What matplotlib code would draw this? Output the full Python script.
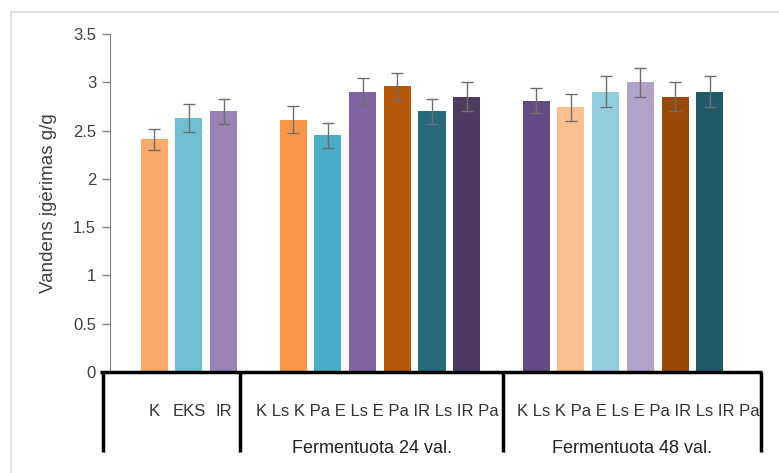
import matplotlib
matplotlib.use("Agg")
import matplotlib.pyplot as plt
import matplotlib.transforms as mtransforms
from matplotlib.patches import Rectangle

# data
slots = [0, 1, 2, 4, 5, 6, 7, 8, 9, 11, 12, 13, 14, 15, 16]
values = [2.41, 2.63, 2.70,
          2.61, 2.45, 2.90, 2.96, 2.70, 2.85,
          2.81, 2.74, 2.90, 3.00, 2.85, 2.90]
errors = [0.11, 0.14, 0.13,
          0.14, 0.13, 0.14, 0.14, 0.13, 0.15,
          0.13, 0.14, 0.16, 0.15, 0.15, 0.16]
colors = ["#F9A96B", "#70BED3", "#9A82B6",
          "#F79646", "#4BACC6", "#8064A2", "#B65708", "#276A7C", "#4F3B62",
          "#654B85", "#FAC08F", "#93CDDD", "#B3A2C7", "#984807", "#215968"]
first_labels = ["K", "EKS", "IR"]
sub_labels = ["K Ls", "K Pa", "E Ls", "E Pa", "IR Ls", "IR Pa"]
group_names = ["Fermentuota 24 val.", "Fermentuota 48 val."]
yticks = [0, 0.5, 1, 1.5, 2, 2.5, 3, 3.5]
ytick_labels = ["0", "0.5", "1", "1.5", "2", "2.5", "3", "3.5"]

W, H = 779, 473
fig = plt.figure(figsize=(W / 100, H / 100), dpi=100)
ax = fig.add_axes([110 / W, 1 - 372 / H, (762 - 110) / W, (372 - 34) / H])

ax.bar(slots, values, width=0.78, color=colors, zorder=2)
ax.errorbar(slots, values, yerr=errors, fmt="none", ecolor="#6e6e6e",
            elinewidth=1, capsize=4, capthick=1, zorder=3)

ax.set_ylim(0, 3.5)
ax.set_xlim(-1.27, 17.5)
ax.set_yticks(yticks)
ax.set_yticklabels(ytick_labels, fontsize=12, color="#404040",
                   fontfamily="Liberation Sans")
ax.set_xticks([])
ax.tick_params(axis="y", direction="out", length=6, color="#868686", width=1, pad=4)
for s in ["top", "right", "bottom"]:
    ax.spines[s].set_visible(False)
ax.spines["left"].set_color("#868686")
ax.set_ylabel("Vandens įgėrimas g/g", fontsize=13.5, color="#404040",
              fontfamily="Liberation Sans")
ax.yaxis.set_label_coords(-0.082, 0.5)

# multi level category axis drawn by hand
trans = mtransforms.blended_transform_factory(ax.transData, ax.transAxes)
slot_px = 34.75
def px2x(px):
    return (px - 154) / slot_px

ax.plot([px2x(100), px2x(762)], [0, 0], color="black", lw=2.5,
        transform=trans, clip_on=False, solid_capstyle="butt", zorder=5)
for sep in [103, 240, 503, 761]:
    ax.plot([px2x(sep), px2x(sep)], [0, -0.237], color="black", lw=2.5,
            transform=trans, clip_on=False, solid_capstyle="butt", zorder=5)

for x, lab in zip(slots[:3], first_labels):
    ax.text(x, -0.118, lab, transform=trans, ha="center", va="center",
            fontsize=12, color="#333333", fontfamily="Liberation Sans")

segments = [(240, 503), (503, 761)]
for (a, b), gname in zip(segments, group_names):
    ax.text(px2x((a + b) / 2 + 6), -0.118, " ".join(sub_labels), transform=trans,
            ha="center", va="center", fontsize=12, color="#333333",
            fontfamily="Liberation Sans")
    ax.text(px2x((a + b) / 2), -0.225, gname, transform=trans, ha="center",
            va="center", fontsize=13, color="#222222", fontfamily="Liberation Sans")

# light chart border
fig.patches.append(Rectangle((11 / W, -0.1), 1.2, 1.1 - 12 / H,
                             transform=fig.transFigure, fill=False,
                             edgecolor="#d9d9d9", lw=1.2))

fig.savefig("out.png", dpi=100)
